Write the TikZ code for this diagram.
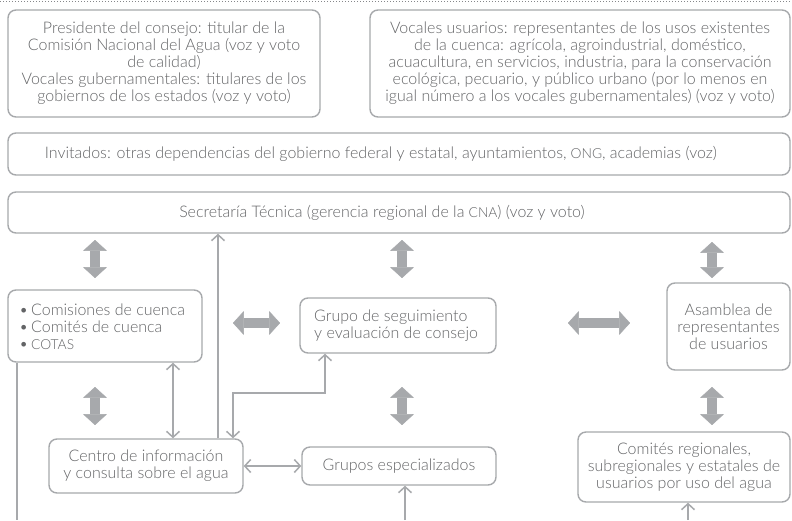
\documentclass[tikz,border=0pt]{standalone}
\usepackage{fontspec}
\setmainfont{Lato Light}
\usetikzlibrary{arrows.meta,calc}
\definecolor{linegray}{HTML}{A7A9AC}
\definecolor{txtgray}{HTML}{636466}
\newcommand\acr[1]{{\fontsize{13.8pt}{17pt}\selectfont #1}}
\begin{document}
\begin{tikzpicture}[x=1pt,y=-1pt,
  box/.style={draw=linegray, line width=1.4pt, rounded corners=8pt, inner sep=0pt},
  txt/.style={text=txtgray, font=\fontsize{16pt}{17pt}\selectfont, align=center, inner sep=0pt},
  conn/.style={draw=linegray, line width=1.5pt, arrows={-}, >={Straight Barb[length=6pt,width=13pt]}},
  fat/.style={draw=linegray, line width=10.5pt,
     {Triangle[width=24pt,length=11pt,line width=0.5pt,round]}-{Triangle[width=24pt,length=11pt,line width=0.5pt,round]}}
]
\useasboundingbox (0,0) rectangle (792,520);
\fill[white] (0,0) rectangle (792,520);
\draw[linegray!80!black, dotted, line width=1pt] (0,1) -- (792,1);

% top boxes
\node[box, txt, minimum width=312pt, minimum height=107pt] (pres) at (164,63.5)
 {Presidente del consejo: titular de la\\Comisión Nacional del Agua (voz y voto\\de calidad)\\Vocales gubernamentales: titulares de los\\gobiernos de los estados (voz y voto)};
\node[box, txt, minimum width=420pt, minimum height=107pt] (voc) at (580,63.5)
 {Vocales usuarios: representantes de los usos existentes\\de la cuenca: agrícola, agroindustrial, doméstico,\\acuacultura, en servicios, industria, para la conservación\\ecológica, pecuario, y público urbano (por lo menos en\\igual número a los vocales gubernamentales) (voz y voto)};

% invitados
\node[box, minimum width=782pt, minimum height=42pt] (inv) at (399,154) {};
\node[txt] (invt) at (381,154) {Invitados: otras dependencias del gobierno federal y estatal, ayuntamientos, \acr{ONG}, academias (voz)};

% secretaria
\node[box, minimum width=782pt, minimum height=41pt] (sec) at (399,212.5) {};
\node[txt] (sect) at (382,212.5) {Secretaría Técnica (gerencia regional de la \acr{CNA}) (voz y voto)};

% middle row
\node[box, minimum width=194pt, minimum height=72pt] (com) at (105,326) {};
\node[txt, align=left, anchor=west] (comt) at (19,327)
 {\textbullet\,Comisiones de cuenca\\\textbullet\,Comités de cuenca\\\textbullet\,\acr{COTAS}};
\node[box, minimum width=196pt, minimum height=55pt] (gse) at (398,325.5) {};
\node[txt, align=left, anchor=west] (gset) at (314,325.5)
 {Grupo de seguimiento\\y evaluación de consejo};
\node[box, txt, minimum width=123pt, minimum height=87pt] (asa) at (728.5,326.5)
 {Asamblea de\\representantes\\de usuarios};

% bottom row
\node[box, txt, minimum width=194pt, minimum height=54pt] (cen) at (146,466)
 {Centro de información\\y consulta sobre el agua};
\node[box, txt, minimum width=194pt, minimum height=38pt] (gesp) at (399,466)
 {Grupos especializados};
\node[box, txt, minimum width=212pt, minimum height=70pt] (comr) at (684,467)
 {Comités regionales,\\subregionales y estatales de\\usuarios por uso del agua};

% fat arrow end points
\coordinate (f1a) at (95,240);  \coordinate (f1b) at (95,278);
\coordinate (f2a) at (402,240); \coordinate (f2b) at (402,278);
\coordinate (f3a) at (712,242); \coordinate (f3b) at (712,278);
\coordinate (f4a) at (95,387);  \coordinate (f4b) at (95,425);
\coordinate (f5a) at (402,387); \coordinate (f5b) at (402,425);
\coordinate (f6a) at (712,387); \coordinate (f6b) at (712,425);
\coordinate (f7a) at (233,323); \coordinate (f7b) at (280,323);
\coordinate (f8a) at (568,323); \coordinate (f8b) at (630,323);
\foreach \i in {1,...,8} {\draw[fat] (f\i a) -- (f\i b);}

% thin connectors
\coordinate (bl) at (17,520);
\coordinate (bm) at (405,520);
\coordinate (br) at (688,520);
\draw[conn,->] (cen.north -| 218,0) -- (sec.south -| 218,0);
\draw[conn,<->] (com.south -| 173,0) -- (cen.north -| 173,0);
\draw[conn,<->] (gse.south -| 325,0) |- (233,393) -- (cen.north -| 233,0);
\draw[conn,<->] (cen.east) -- (gesp.west);
\draw[conn] (com.south -| bl) -- (bl);
\draw[conn,->] (bm) -- (gesp.south -| bm);
\draw[conn,->] (br) -- (comr.south -| br);
\end{tikzpicture}
\end{document}
